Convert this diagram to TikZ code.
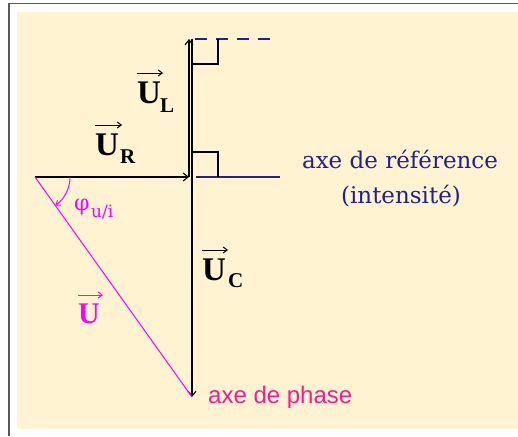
\documentclass[tikz,border=0pt]{standalone}
\usepackage{fontspec}
\setmainfont{Liberation Serif}
\newfontfamily\dvserif{DejaVu Serif}
\newfontfamily\lsans{Liberation Sans}
\usetikzlibrary{arrows.meta}
\definecolor{paper}{HTML}{FFF3D2}
\definecolor{refblue}{HTML}{22228F}
\definecolor{magU}{HTML}{FF00FF}
\definecolor{phasepink}{HTML}{FF1A8C}
\definecolor{framegray}{HTML}{5A5A5A}
\tikzset{
  vec/.style={line width=1.1pt,-{Straight Barb[length=5pt,width=8pt]}},
  plainline/.style={line width=1.1pt},
  lblarrow/.style={line width=1pt,-{Straight Barb[length=4pt,width=6pt]}},
  bigU/.style={inner sep=0pt,anchor=base west,font=\fontsize{33}{36}\selectfont\bfseries},
  subU/.style={inner sep=0pt,anchor=base west,font=\fontsize{21}{24}\selectfont\bfseries},
  bluetext/.style={inner sep=0pt,anchor=base,text=refblue,font=\dvserif\fontsize{23}{26}\selectfont},
}
\begin{document}
\begin{tikzpicture}[x=1pt,y=-1pt]
\useasboundingbox (0,0) rectangle (518,436);
% frame and paper
\fill[white] (0,0) rectangle (518,436);
\fill[paper] (17,12) rectangle (518,429);
\draw[framegray,line width=1.5pt] (9,436) -- (9,3.5) -- (518,3.5);
% key points
\coordinate (O) at (35,177);
\coordinate (A) at (192,177);
\coordinate (AR) at (189,177);
\coordinate (T) at (192,39);
\coordinate (TL) at (189,39);
\coordinate (B) at (192,397);
% blue reference axis and dashed continuation
\draw[refblue,line width=1.1pt] (196,177) -- (280,177);
\draw[refblue,line width=1.1pt,dash pattern=on 12pt off 9pt] (195,39) -- (270,39);
% right-angle marks
\draw[plainline] (192,152) -| (218,177);
\draw[plainline] (192,64) -| (218,39);
% vectors
\draw[vec] (O) -- (AR);
\draw[vec] (AR) -- (TL);
\draw[vec] (T) -- (B);
\draw[magU,line width=1pt] (O) -- (B);
% angle arc
\draw[magU,line width=1pt,-{Straight Barb[length=4pt,width=6pt]}] ([xshift=35pt]O) arc[start angle=0,end angle=-54.5,radius=35pt];
% labels U_L, U_R, U_C
\node[bigU] (uL) at (137,103) {U};
\node[subU] (uLs) at (160,112) {L};
\draw[lblarrow] (137,73) -- (163,73);
\node[bigU] (uR) at (95,155) {U};
\node[subU] (uRs) at (120,163) {R};
\draw[lblarrow] (95,125) -- (122,125);
\node[bigU] (uC) at (202,280) {U};
\node[subU] (uCs) at (228,287) {C};
\draw[lblarrow] (202,250) -- (228,250);
% magenta U and phi
\node[bigU,text=magU,font=\fontsize{30}{32}\selectfont\bfseries] (uU) at (78,323) {U};
\draw[lblarrow,magU] (78,295) -- (103,295);
\node[inner sep=0pt,anchor=base west,text=magU,font=\dvserif\fontsize{22}{24}\selectfont] (phi) at (74,210) {φ};
\node[inner sep=0pt,anchor=base west,text=magU,font=\dvserif\fontsize{17}{19}\selectfont] (phis) at (91,217) {u/i};
% texts
\node[bluetext] (ref1) at (400,168) {axe de référence};
\node[bluetext] (ref2) at (401,203) {(intensité)};
\node[inner sep=0pt,anchor=base west,text=phasepink,font=\lsans\fontsize{24}{27}\selectfont] (ph) at (208,403) {axe de phase};
\end{tikzpicture}
\end{document}
